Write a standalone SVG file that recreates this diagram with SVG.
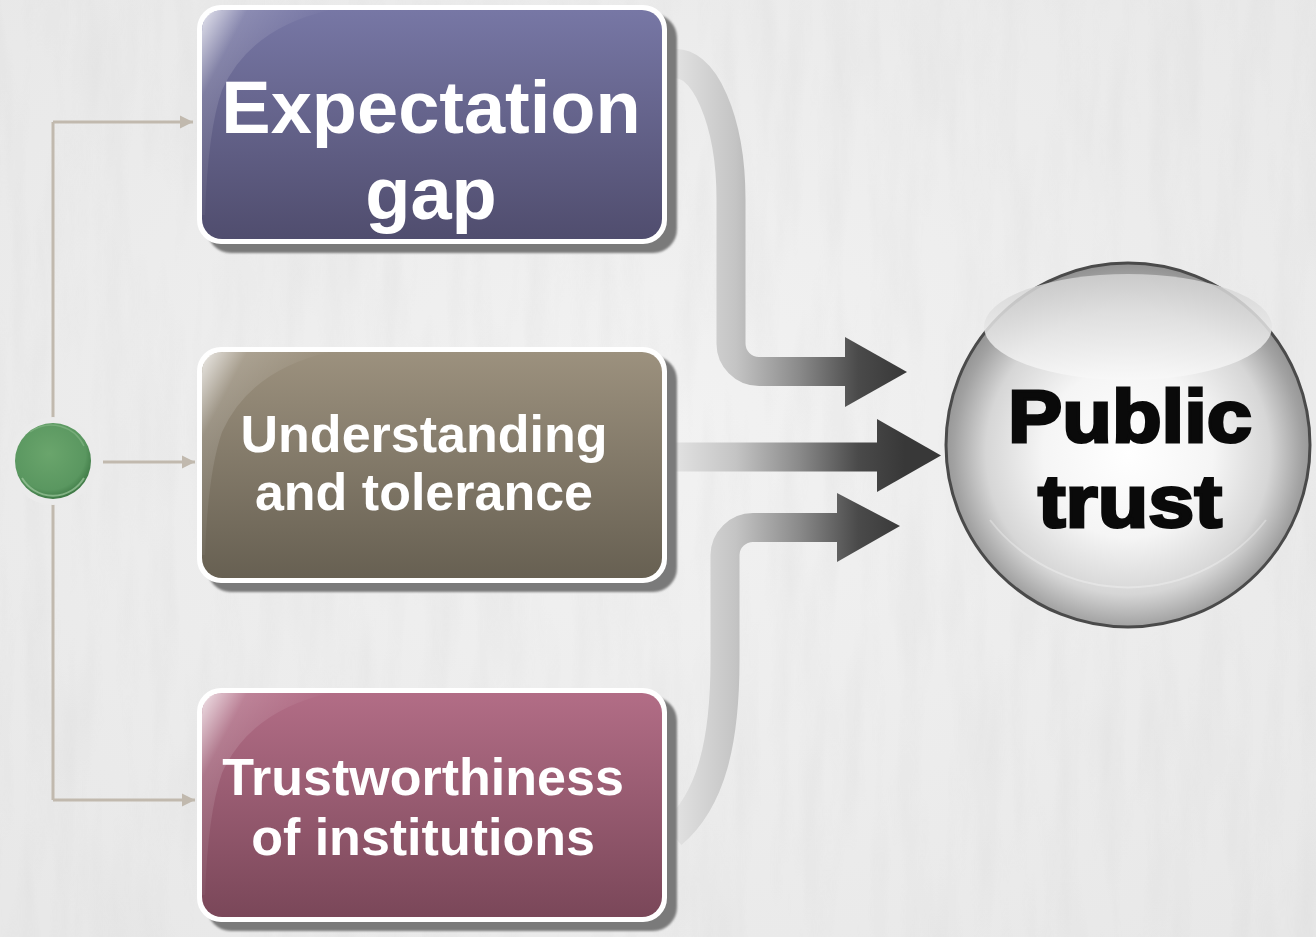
<svg xmlns="http://www.w3.org/2000/svg" width="1316" height="937" viewBox="0 0 1316 937">
<defs>
<style>
.lbl{font-family:"Liberation Sans",Arial,sans-serif;font-weight:bold;fill:#ffffff;text-anchor:middle}
.big{font-family:"Liberation Sans",Arial,sans-serif;font-weight:bold;fill:#0a0a0a;stroke:#0a0a0a;stroke-width:3;text-anchor:middle}
.conn{stroke:#c1b9ae;stroke-width:3;fill:none}
.shaft{fill:none;stroke:url(#arrowGrad);stroke-width:29}
.head{fill:url(#arrowGrad)}
.border{fill:#ffffff}
.shadow{fill:#7a7a7a;filter:url(#soft)}
</style>
<filter id="soft" x="-5%" y="-5%" width="110%" height="110%"><feGaussianBlur stdDeviation="1"/></filter>
<filter id="paper" x="0" y="0" width="100%" height="100%">
<feTurbulence type="fractalNoise" baseFrequency="0.04 0.006" numOctaves="3" seed="7"/>
<feColorMatrix type="matrix" values="0 0 0 0 0.55  0 0 0 0 0.55  0 0 0 0 0.55  0 0 0 -1.4 0.85"/>
</filter>
<radialGradient id="bg" cx="50%" cy="45%" r="70%">
<stop offset="0" stop-color="#f2f2f2"/><stop offset="1" stop-color="#e8e8e8"/>
</radialGradient>
<linearGradient id="arrowGrad" gradientUnits="userSpaceOnUse" x1="670" y1="0" x2="905" y2="0">
<stop offset="0" stop-color="#e4e4e4"/>
<stop offset="0.28" stop-color="#c4c4c4"/>
<stop offset="0.55" stop-color="#8a8a8a"/>
<stop offset="0.8" stop-color="#4a4a4a"/>
<stop offset="1" stop-color="#383838"/>
</linearGradient>
<linearGradient id="g1" x1="0" y1="0" x2="0" y2="1">
<stop offset="0" stop-color="#7777a5"/><stop offset="1" stop-color="#504d6e"/>
</linearGradient>
<linearGradient id="g2" x1="0" y1="0" x2="0" y2="1">
<stop offset="0" stop-color="#9c917e"/><stop offset="1" stop-color="#676052"/>
</linearGradient>
<linearGradient id="g3" x1="0" y1="0" x2="0" y2="1">
<stop offset="0" stop-color="#b26d86"/><stop offset="1" stop-color="#7a4759"/>
</linearGradient>
<linearGradient id="gloss" x1="0" y1="0" x2="0.6" y2="0.5">
<stop offset="0" stop-color="#ffffff" stop-opacity="0.8"/>
<stop offset="0.35" stop-color="#ffffff" stop-opacity="0.15"/>
<stop offset="1" stop-color="#ffffff" stop-opacity="0"/>
</linearGradient>
<radialGradient id="green" cx="45%" cy="40%" r="60%">
<stop offset="0" stop-color="#6aa56c"/><stop offset="0.8" stop-color="#5a9760"/><stop offset="1" stop-color="#3f7a46"/>
</radialGradient>
<radialGradient id="sphere" cx="50%" cy="52%" r="52%">
<stop offset="0" stop-color="#ffffff"/>
<stop offset="0.45" stop-color="#f5f5f5"/>
<stop offset="0.75" stop-color="#d6d6d6"/>
<stop offset="0.92" stop-color="#a2a2a2"/>
<stop offset="1" stop-color="#909090"/>
</radialGradient>
<linearGradient id="sphereHi" x1="0" y1="0" x2="0" y2="1">
<stop offset="0" stop-color="#d2d2d2"/>
<stop offset="1" stop-color="#f8f8f8"/>
</linearGradient>
<marker id="tri" viewBox="0 0 10 10" refX="10" refY="5" markerWidth="4.5" markerHeight="5" markerUnits="strokeWidth" orient="auto">
<path d="M0,0 L10,5 L0,10 Z" fill="#c1b9ae"/>
</marker>
</defs>

<rect width="1316" height="937" fill="url(#bg)"/>
<rect width="1316" height="937" filter="url(#paper)" opacity="0.18"/>

<g id="connectors">
<path class="conn" d="M53 122 V800"/>
<path class="conn" d="M53 122 H193" marker-end="url(#tri)"/>
<path class="conn" d="M103 462 H195" marker-end="url(#tri)"/>
<path class="conn" d="M53 800 H195" marker-end="url(#tri)"/>
<path class="shaft" d="M672 64 A55 136 0 0 1 731 200 L731 343 A28 28 0 0 0 759 371.5 L848 371.5"/>
<polygon class="head" points="845,337 907,372 845,407"/>
<path class="shaft" d="M672 457 L880 457"/>
<polygon class="head" points="877,419 941,455.5 877,492"/>
<path class="shaft" d="M672 834 C712 800 725 740 725 660 L725 555 A28 28 0 0 1 753 527.5 L840 527.5"/>
<polygon class="head" points="837,493 900,526 837,562"/>
</g>

<g id="start">
<circle cx="53" cy="461" r="44" fill="#ebebeb"/>
<circle cx="53" cy="461" r="38" fill="url(#green)"/>
<path d="M22 478 A36 36 0 0 0 84 478" fill="none" stroke="#9cc79d" stroke-width="2" opacity="0.7"/>
<path d="M30 432 A36 36 0 0 1 84 446" fill="none" stroke="#8fbf90" stroke-width="1.5" opacity="0.5"/>
</g>

<g id="box1">
<rect class="shadow" x="207" y="14" width="470" height="239" rx="24"/>
<rect class="border" x="197" y="5" width="470" height="239" rx="24"/>
<rect x="202" y="10" width="460" height="229" rx="20" fill="url(#g1)"/>
<path d="M202 32 Q202 10 224 10 L330 10 Q250 28 222 90 Q208 130 205 215 L202 215 Z" fill="url(#gloss)"/>
<text class="lbl" x="431" y="133" font-size="74">Expectation</text>
<text class="lbl" x="431" y="219" font-size="74">gap</text>
</g>

<g id="box2">
<rect class="shadow" x="207" y="356" width="470" height="236" rx="24"/>
<rect class="border" x="197" y="347" width="470" height="236" rx="24"/>
<rect x="202" y="352" width="460" height="226" rx="20" fill="url(#g2)"/>
<path d="M202 374 Q202 352 224 352 L330 352 Q250 370 222 432 Q208 472 205 555 L202 555 Z" fill="url(#gloss)"/>
<text class="lbl" x="424" y="452" font-size="52">Understanding</text>
<text class="lbl" x="424" y="510" font-size="52">and tolerance</text>
</g>

<g id="box3">
<rect class="shadow" x="207" y="697" width="470" height="234" rx="24"/>
<rect class="border" x="197" y="688" width="470" height="234" rx="24"/>
<rect x="202" y="693" width="460" height="224" rx="20" fill="url(#g3)"/>
<path d="M202 715 Q202 693 224 693 L330 693 Q250 711 222 773 Q208 813 205 895 L202 895 Z" fill="url(#gloss)"/>
<text class="lbl" x="423" y="795" font-size="52">Trustworthiness</text>
<text class="lbl" x="423" y="855" font-size="52">of institutions</text>
</g>

<g id="publicTrust">
<circle cx="1128" cy="445" r="182" fill="url(#sphere)" stroke="#4a4a4a" stroke-width="3"/>
<ellipse cx="1128" cy="327" rx="144" ry="53" fill="url(#sphereHi)" opacity="0.85"/>
<path d="M990 520 A175 175 0 0 0 1266 520" fill="none" stroke="#ffffff" stroke-width="2" opacity="0.3"/>
<text class="big" x="1130" y="442" font-size="75" textLength="244" lengthAdjust="spacingAndGlyphs">Public</text>
<text class="big" x="1130" y="527" font-size="75" textLength="184" lengthAdjust="spacingAndGlyphs">trust</text>
</g>
</svg>
